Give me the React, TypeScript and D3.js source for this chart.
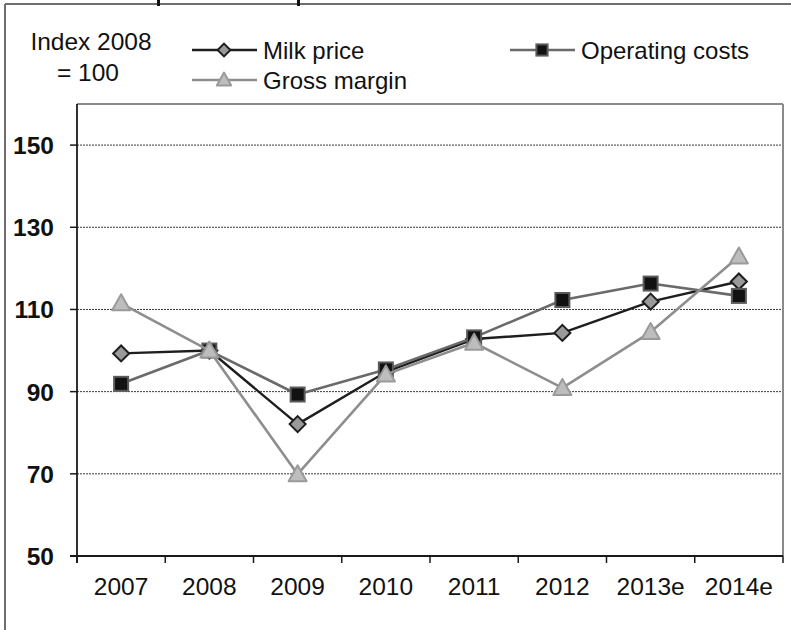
import React from "react";
import * as d3 from "d3";

const categories = ["2007", "2008", "2009", "2010", "2011", "2012", "2013e", "2014e"];
const milkPrice = [99.3, 100, 82.1, 94.8, 102.8, 104.3, 111.9, 116.8];
const operatingCosts = [91.9, 100, 89.3, 95.4, 103.2, 112.3, 116.3, 113.3];
const grossMargin = [111.5, 100, 69.9, 94.2, 101.9, 90.9, 104.5, 122.9];
const yTicks = [50, 70, 90, 110, 130, 150];
const seriesNames = ["Milk price", "Operating costs", "Gross margin"];

const W = 791;
const H = 630;
const FONT = "'Liberation Sans', Arial, Helvetica, sans-serif";

const plot = { left: 77, right: 783, top: 104, bottom: 556 };

type Style = {
  line: string;
  lineWidth: number;
  fill: string;
  stroke: string;
  shape: "diamond" | "square" | "triangle";
};

const styles: Style[] = [
  { line: "#1e1e1e", lineWidth: 2.4, fill: "#9a9a9a", stroke: "#1e1e1e", shape: "diamond" },
  { line: "#6a6a6a", lineWidth: 2.6, fill: "#111111", stroke: "#5a5a5a", shape: "square" },
  { line: "#8e8e8e", lineWidth: 2.6, fill: "#bdbdbd", stroke: "#9a9a9a", shape: "triangle" },
];

function Marker({ x, y, s, scale = 1 }: { x: number; y: number; s: Style; scale?: number }) {
  if (s.shape === "diamond") {
    const r = 8 * scale;
    return (
      <path
        d={`M${x},${y - r}L${x + r},${y}L${x},${y + r}L${x - r},${y}Z`}
        fill={s.fill}
        stroke={s.stroke}
        strokeWidth={2}
      />
    );
  }
  if (s.shape === "square") {
    const h = 7 * scale;
    return (
      <rect x={x - h} y={y - h} width={2 * h} height={2 * h} fill={s.fill} stroke={s.stroke} strokeWidth={2} />
    );
  }
  const hw = 9 * scale;
  const hh = 8 * scale;
  return (
    <path
      d={`M${x},${y - hh - 1}L${x + hw},${y + hh - 1}L${x - hw},${y + hh - 1}Z`}
      fill={s.fill}
      stroke={s.stroke}
      strokeWidth={2}
      strokeLinejoin="round"
    />
  );
}

export default function App() {
  const x = d3.scaleBand<string>().domain(categories).range([plot.left, plot.right]).padding(0);
  const y = d3.scaleLinear().domain([50, 160]).range([plot.bottom, plot.top]);
  const cx = (c: string) => (x(c) as number) + x.bandwidth() / 2;

  const data = [milkPrice, operatingCosts, grossMargin];
  const lineGen = d3
    .line<number>()
    .x((_, i) => cx(categories[i]))
    .y((d) => y(d));

  const boundaries = categories.map((c) => x(c) as number).concat([plot.right]);

  const legendItems = [
    { idx: 0, x0: 192, y0: 50 },
    { idx: 1, x0: 510, y0: 50 },
    { idx: 2, x0: 192, y0: 80 },
  ];

  return (
    <svg
      width={W}
      height={H}
      viewBox={`0 0 ${W} ${H}`}
      style={{ position: "absolute", left: 0, top: 0, background: "#fff" }}
      fontFamily={FONT}
    >
      <rect x={0} y={0} width={W} height={H} fill="#fff" />
      {/* outer frame */}
      <line x1={5} y1={4} x2={W} y2={4} stroke="#6e6e6e" strokeWidth={2} />
      <line x1={5} y1={4} x2={5} y2={H} stroke="#6e6e6e" strokeWidth={2} />
      <rect x={157} y={0} width={3} height={6} fill="#111" />
      <rect x={297} y={0} width={3} height={6} fill="#111" />

      {/* gridlines */}
      {yTicks
        .filter((t) => t !== 50)
        .map((t) => (
          <line
            key={"g" + t}
            x1={plot.left}
            x2={plot.right}
            y1={y(t)}
            y2={y(t)}
            stroke="#3a3a3a"
            strokeWidth={1}
            strokeDasharray="2,1"
          />
        ))}

      {/* plot border top/right */}
      <line x1={plot.left} y1={plot.top} x2={plot.right} y2={plot.top} stroke="#8a8a8a" strokeWidth={2} />
      <line x1={plot.right} y1={plot.top} x2={plot.right} y2={plot.bottom} stroke="#8a8a8a" strokeWidth={2} />

      {/* axes */}
      <line x1={plot.left} y1={plot.top} x2={plot.left} y2={plot.bottom + 7} stroke="#1a1a1a" strokeWidth={1.8} />
      <line x1={plot.left - 7} y1={plot.bottom} x2={plot.right} y2={plot.bottom} stroke="#1a1a1a" strokeWidth={1.8} />
      {yTicks.map((t) => (
        <line key={"yt" + t} x1={plot.left - 7} x2={plot.left} y1={y(t)} y2={y(t)} stroke="#1a1a1a" strokeWidth={1.5} />
      ))}
      {boundaries.map((b, i) => (
        <line key={"xt" + i} x1={b} x2={b} y1={plot.bottom} y2={plot.bottom + 7} stroke="#1a1a1a" strokeWidth={1.5} />
      ))}

      {/* y labels */}
      {yTicks.map((t) => (
        <text
          key={"yl" + t}
          x={54}
          y={y(t) + 9}
          textAnchor="end"
          fontSize={24.5}
          fontWeight="bold"
          fill="#111"
        >
          {t}
        </text>
      ))}

      {/* x labels */}
      {categories.map((c) => (
        <text key={"xl" + c} x={cx(c)} y={595} textAnchor="middle" fontSize={24.5} fill="#111">
          {c}
        </text>
      ))}

      {/* series */}
      {data.map((vals, si) => (
        <g key={"s" + si}>
          <path d={lineGen(vals) || ""} fill="none" stroke={styles[si].line} strokeWidth={styles[si].lineWidth} strokeLinejoin="round" />
          {vals.map((v, i) => (
            <Marker key={i} x={cx(categories[i])} y={y(v)} s={styles[si]} />
          ))}
        </g>
      ))}

      {/* top-left label */}
      <text x={91} y={50} textAnchor="middle" fontSize={24.5} fill="#111">
        Index 2008
      </text>
      <text x={88} y={81} textAnchor="middle" fontSize={24.5} fill="#111">
        = 100
      </text>

      {/* legend */}
      {legendItems.map((it) => {
        const s = styles[it.idx];
        return (
          <g key={"lg" + it.idx}>
            <line x1={it.x0} x2={it.x0 + 65} y1={it.y0} y2={it.y0} stroke={s.line} strokeWidth={s.lineWidth} />
            <Marker x={it.x0 + 32} y={it.y0} s={s} scale={0.8} />
            <text x={it.x0 + 71} y={it.y0 + 9} fontSize={24} fill="#111">
              {seriesNames[it.idx]}
            </text>
          </g>
        );
      })}
    </svg>
  );
}
